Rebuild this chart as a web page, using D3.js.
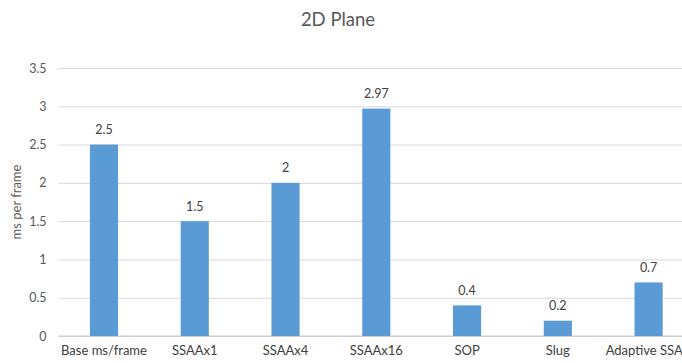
<!DOCTYPE html>
<html>
<head>
<meta charset="utf-8">
<script src="https://cdn.jsdelivr.net/npm/d3@7"></script>
<style>
  html, body { margin: 0; padding: 0; background: #fff; overflow: hidden; }
  svg { display: block; }
  text { font-family: Lato, "Open Sans", sans-serif; }
</style>
</head>
<body>
<div id="chart"></div>
<script>
// Frame time per anti-aliasing technique
const categories = ["Base ms/frame", "SSAAx1", "SSAAx4", "SSAAx16", "SOP", "Slug", "Adaptive SSAA"];
const msPerFrame = [2.5, 1.5, 2, 2.97, 0.4, 0.2, 0.7];
const yTicks = [0, 0.5, 1, 1.5, 2, 2.5, 3, 3.5];
const yTickLabels = ["0", "0.5", "1", "1.5", "2", "2.5", "3", "3.5"];

const width = 682, height = 363;
const margin = { top: 68, right: -12, bottom: 27, left: 58.6 };

const svg = d3.select("#chart").append("svg")
  .attr("width", width)
  .attr("height", height);

const x = d3.scaleBand()
  .domain(categories)
  .range([margin.left, width - margin.right])
  .paddingInner(0.69)
  .paddingOuter(0.345);

const y = d3.scaleLinear()
  .domain([0, 3.5])
  .range([height - margin.bottom, margin.top]);

// Title
svg.append("text")
  .attr("x", 338)
  .attr("y", 26)
  .attr("text-anchor", "middle")
  .attr("font-size", 18.5)
  .attr("fill", "#595959")
  .text("2D Plane");

// Horizontal gridlines and value axis labels
const yAxis = d3.axisLeft(y)
  .tickValues(yTicks)
  .tickFormat((d, i) => yTickLabels[i])
  .tickSize(-(width - margin.right - margin.left))
  .tickPadding(12);

const gy = svg.append("g")
  .attr("transform", `translate(${margin.left},0)`)
  .call(yAxis);
gy.select(".domain").remove();
gy.selectAll(".tick line").attr("stroke", "#d9d9d9").attr("stroke-width", 1);
gy.selectAll(".tick text")
  .attr("fill", "#595959")
  .attr("font-size", 12.5)
  .attr("font-family", "Lato, 'Open Sans', sans-serif");

// Baseline
svg.append("line")
  .attr("x1", margin.left).attr("x2", width - margin.right)
  .attr("y1", y(0)).attr("y2", y(0))
  .attr("stroke", "#c8c8c8");

// Category axis labels
const xAxis = d3.axisBottom(x).tickSize(0).tickPadding(10);
const gx = svg.append("g")
  .attr("transform", `translate(0,${y(0)})`)
  .call(xAxis);
gx.select(".domain").remove();
gx.selectAll(".tick text")
  .attr("fill", "#404040")
  .attr("font-size", 13)
  .attr("font-family", "Lato, 'Open Sans', sans-serif");

// Axis title
svg.append("text")
  .attr("transform", `translate(21,${(y(0) + y(3.5)) / 2}) rotate(-90)`)
  .attr("text-anchor", "middle")
  .attr("font-size", 13)
  .attr("fill", "#595959")
  .text("ms per frame");

// Bars
const data = categories.map((c, i) => ({ category: c, value: msPerFrame[i] }));

svg.append("g").selectAll("rect")
  .data(data)
  .join("rect")
  .attr("x", d => x(d.category))
  .attr("y", d => y(d.value))
  .attr("width", x.bandwidth())
  .attr("height", d => y(0) - y(d.value))
  .attr("fill", "#5b9bd5");

// Value labels
svg.append("g").selectAll("text")
  .data(data)
  .join("text")
  .attr("x", d => x(d.category) + x.bandwidth() / 2)
  .attr("y", d => y(d.value) - 10.5)
  .attr("text-anchor", "middle")
  .attr("font-size", 12.5)
  .attr("fill", "#404040")
  .text(d => d.value);
</script>
</body>
</html>
